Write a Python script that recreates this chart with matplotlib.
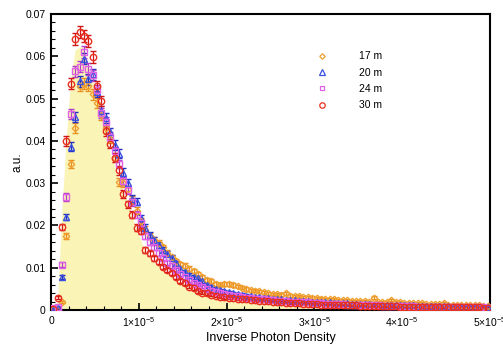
import numpy as np
import matplotlib
matplotlib.use("Agg")
import matplotlib.pyplot as plt
from matplotlib.lines import Line2D
from matplotlib.ticker import MultipleLocator, FixedLocator, FixedFormatter

plt.rcParams['font.family'] = ['Liberation Sans', 'DejaVu Sans']
plt.rcParams['mathtext.fontset'] = 'custom'
plt.rcParams['mathtext.rm'] = 'Liberation Sans'
plt.rcParams['mathtext.it'] = 'Liberation Sans'

# ---- data ----
bin_width = 5e-7
n_bins = 100

series_labels = ["17 m", "20 m", "24 m", "30 m"]

y17 = [0.0, 0.0, 0.0020, 0.0175, 0.0345, 0.0430, 0.0530, 0.0535, 0.0530, 0.0510,
       0.0490, 0.0460, 0.0430, 0.0405, 0.0360, 0.0303, 0.0300, 0.0285, 0.0260, 0.0235,
       0.0210, 0.0190, 0.0175, 0.0165, 0.0158, 0.0148, 0.0135, 0.0125, 0.0115, 0.0108,
       0.0105, 0.0098, 0.0092, 0.0085, 0.0078, 0.0072, 0.0068, 0.0062, 0.0060, 0.0062,
       0.0062, 0.0059, 0.0056, 0.0053, 0.0050, 0.0047, 0.0046, 0.0044, 0.0042, 0.0040,
       0.0038, 0.0037, 0.0036, 0.0040, 0.0034, 0.0033, 0.0032, 0.0031, 0.0030, 0.0029,
       0.0028, 0.0027, 0.0026, 0.0026, 0.0025, 0.0024, 0.0024, 0.0023, 0.0022, 0.0022,
       0.0021, 0.0021, 0.0020, 0.0029, 0.0020, 0.0019, 0.0019, 0.0024, 0.0018, 0.0018,
       0.0017, 0.0017, 0.0016, 0.0016, 0.0016, 0.0015, 0.0015, 0.0014, 0.0014, 0.0017,
       0.0013, 0.0013, 0.0012, 0.0012, 0.0012, 0.0011, 0.0011, 0.0011, 0.0010, 0.0010]

y20 = [0.0, 0.0005, 0.0078, 0.0220, 0.0386, 0.0456, 0.0541, 0.0594, 0.0546, 0.0558,
       0.0515, 0.0470, 0.0455, 0.0420, 0.0390, 0.0369, 0.0325, 0.0300, 0.0262, 0.0256,
       0.0217, 0.0195, 0.0178, 0.0165, 0.0154, 0.0142, 0.0133, 0.0123, 0.0110, 0.0098,
       0.0090, 0.0082, 0.0078, 0.0076, 0.0068, 0.0060, 0.0055, 0.0050, 0.0047, 0.0044,
       0.0042, 0.0040, 0.0038, 0.0036, 0.0034, 0.0033, 0.0031, 0.0030, 0.0029, 0.0028,
       0.0027, 0.0026, 0.0025, 0.0024, 0.0023, 0.0023, 0.0022, 0.0021, 0.0021, 0.0020,
       0.0019, 0.0019, 0.0018, 0.0018, 0.0017, 0.0017, 0.0016, 0.0016, 0.0015, 0.0015,
       0.0015, 0.0014, 0.0014, 0.0013, 0.0013, 0.0013, 0.0012, 0.0012, 0.0012, 0.0011,
       0.0011, 0.0011, 0.0011, 0.0010, 0.0010, 0.0010, 0.0010, 0.0009, 0.0009, 0.0009,
       0.0009, 0.0008, 0.0008, 0.0008, 0.0008, 0.0008, 0.0007, 0.0007, 0.0007, 0.0007]

y24 = [0.0005, 0.0007, 0.0107, 0.0267, 0.0464, 0.0565, 0.0575, 0.0610, 0.0570, 0.0555,
       0.0520, 0.0465, 0.0445, 0.0410, 0.0375, 0.0345, 0.0305, 0.0283, 0.0255, 0.0225,
       0.0205, 0.0175, 0.0160, 0.0148, 0.0135, 0.0122, 0.0112, 0.0105, 0.0095, 0.0085,
       0.0078, 0.0072, 0.0065, 0.0060, 0.0055, 0.0050, 0.0046, 0.0042, 0.0040, 0.0037,
       0.0035, 0.0033, 0.0032, 0.0030, 0.0029, 0.0028, 0.0027, 0.0026, 0.0025, 0.0024,
       0.0023, 0.0022, 0.0021, 0.0021, 0.0020, 0.0019, 0.0019, 0.0018, 0.0018, 0.0017,
       0.0016, 0.0016, 0.0015, 0.0015, 0.0014, 0.0014, 0.0014, 0.0013, 0.0013, 0.0012,
       0.0012, 0.0012, 0.0011, 0.0011, 0.0011, 0.0010, 0.0010, 0.0010, 0.0010, 0.0009,
       0.0009, 0.0009, 0.0009, 0.0008, 0.0008, 0.0008, 0.0008, 0.0008, 0.0007, 0.0007,
       0.0007, 0.0007, 0.0007, 0.0006, 0.0006, 0.0006, 0.0006, 0.0006, 0.0006, 0.0005]

y30 = [0.0003, 0.0029, 0.0196, 0.0400, 0.0535, 0.0640, 0.0657, 0.0648, 0.0636, 0.0598,
       0.0530, 0.0494, 0.0423, 0.0393, 0.0360, 0.0330, 0.0275, 0.0250, 0.0225, 0.0195,
       0.0187, 0.0142, 0.0134, 0.0122, 0.0114, 0.0102, 0.0095, 0.0088, 0.0078, 0.0069,
       0.0064, 0.0055, 0.0052, 0.0045, 0.0041, 0.0040, 0.0036, 0.0034, 0.0031, 0.0030,
       0.0029, 0.0028, 0.0027, 0.0026, 0.0025, 0.0024, 0.0023, 0.0022, 0.0021, 0.0021,
       0.0020, 0.0019, 0.0018, 0.0017, 0.0017, 0.0016, 0.0016, 0.0015, 0.0015, 0.0014,
       0.0014, 0.0013, 0.0013, 0.0013, 0.0012, 0.0012, 0.0012, 0.0011, 0.0011, 0.0011,
       0.0010, 0.0010, 0.0010, 0.0010, 0.0009, 0.0009, 0.0009, 0.0009, 0.0009, 0.0008,
       0.0008, 0.0008, 0.0008, 0.0008, 0.0007, 0.0007, 0.0007, 0.0007, 0.0007, 0.0007,
       0.0006, 0.0006, 0.0006, 0.0006, 0.0006, 0.0006, 0.0006, 0.0006, 0.0005, 0.0005]

y_sim = [0.0, 0.0020, 0.0240, 0.0410, 0.0550, 0.0615, 0.0622, 0.0620, 0.0580, 0.0540,
         0.0500, 0.0455, 0.0410, 0.0370, 0.0340, 0.0305, 0.0280, 0.0255, 0.0220, 0.0190,
         0.0165, 0.0135, 0.0125, 0.0113, 0.0105, 0.0095, 0.0088, 0.0080, 0.0072, 0.0065,
         0.0060, 0.0053, 0.0049, 0.0044, 0.0040, 0.0038, 0.0035, 0.0033, 0.0030, 0.0029,
         0.0027, 0.0026, 0.0025, 0.0024, 0.0023, 0.0022, 0.0021, 0.0020, 0.0019, 0.0019,
         0.0018, 0.0017, 0.0016, 0.0016, 0.0015, 0.0015, 0.0014, 0.0014, 0.0013, 0.0013,
         0.0012, 0.0012, 0.0012, 0.0011, 0.0011, 0.0011, 0.0010, 0.0010, 0.0010, 0.0010,
         0.0009, 0.0009, 0.0009, 0.0009, 0.0008, 0.0008, 0.0008, 0.0008, 0.0008, 0.0007,
         0.0007, 0.0007, 0.0007, 0.0007, 0.0006, 0.0006, 0.0006, 0.0006, 0.0006, 0.0006,
         0.0005, 0.0005, 0.0005, 0.0005, 0.0005, 0.0005, 0.0005, 0.0004, 0.0004, 0.0004]

xtick_values = [0, 1e-5, 2e-5, 3e-5, 4e-5, 5e-5]
xtick_labels = ["0", r"$1{\times}10^{-5}$", r"$2{\times}10^{-5}$", r"$3{\times}10^{-5}$",
                r"$4{\times}10^{-5}$", r"$5{\times}10^{-5}$"]
ytick_values = [0, 0.01, 0.02, 0.03, 0.04, 0.05, 0.06, 0.07]
ytick_labels = ["0", "0.01", "0.02", "0.03", "0.04", "0.05", "0.06", "0.07"]

# ---- figure ----
x = (np.arange(n_bins) + 0.5) * bin_width

fig = plt.figure(figsize=(5.03, 3.47), dpi=100)
ax = fig.add_axes([0.1014, 0.1066, 0.8726, 0.8531])

ax.fill_between(x, 0, y_sim, color='#faf4b6', linewidth=0, zorder=1)

styles = [
    (y17, 'D', '#f0a030', 3.3, '#e89020'),
    (y20, '^', '#3a50e0', 4.4, '#2030c0'),
    (y24, 's', '#e060e8', 4.0, '#b040c8'),
    (y30, 'o', '#e83020', 4.6, '#d01818'),
]
handles = []
for (vals, mk, col, ms, ecol), lab in zip(styles, series_labels):
    v = np.array(vals)
    err = 0.0055 * np.sqrt(v)
    ax.errorbar(x, v, yerr=err, fmt=mk, ms=ms, mfc='none', mec=col, mew=1.0,
                ecolor=ecol, elinewidth=0.9, capsize=2.2, capthick=0.9, zorder=3)
    handles.append(Line2D([], [], ls='none', marker=mk, ms=ms * 0.85, mfc='none', mec=col, mew=0.9))

ax.set_xlim(0, 5e-5)
ax.set_ylim(0, 0.07)
ax.xaxis.set_major_locator(FixedLocator(xtick_values))
ax.xaxis.set_major_formatter(FixedFormatter(xtick_labels))
ax.yaxis.set_major_locator(FixedLocator(ytick_values))
ax.yaxis.set_major_formatter(FixedFormatter(ytick_labels))
ax.xaxis.set_minor_locator(MultipleLocator(2e-6))
ax.yaxis.set_minor_locator(MultipleLocator(0.002))
ax.tick_params(which='both', direction='in', top=False, right=False, labelsize=7.5, pad=4)
ax.tick_params(which='major', length=5, width=1.2)
ax.tick_params(which='minor', length=3, width=0.8)
for s in ax.spines.values():
    s.set_linewidth(1.5)

ax.set_xlabel("Inverse Photon Density", fontsize=9, labelpad=2)
ax.set_ylabel("a.u.", fontsize=8.5, labelpad=1)

leg = ax.legend(handles, series_labels, loc='upper left', bbox_to_anchor=(0.585, 0.905),
                frameon=False, fontsize=7.5, handletextpad=3.0, labelspacing=0.6,
                handlelength=1.0)

fig.savefig("out.png", dpi=100)
